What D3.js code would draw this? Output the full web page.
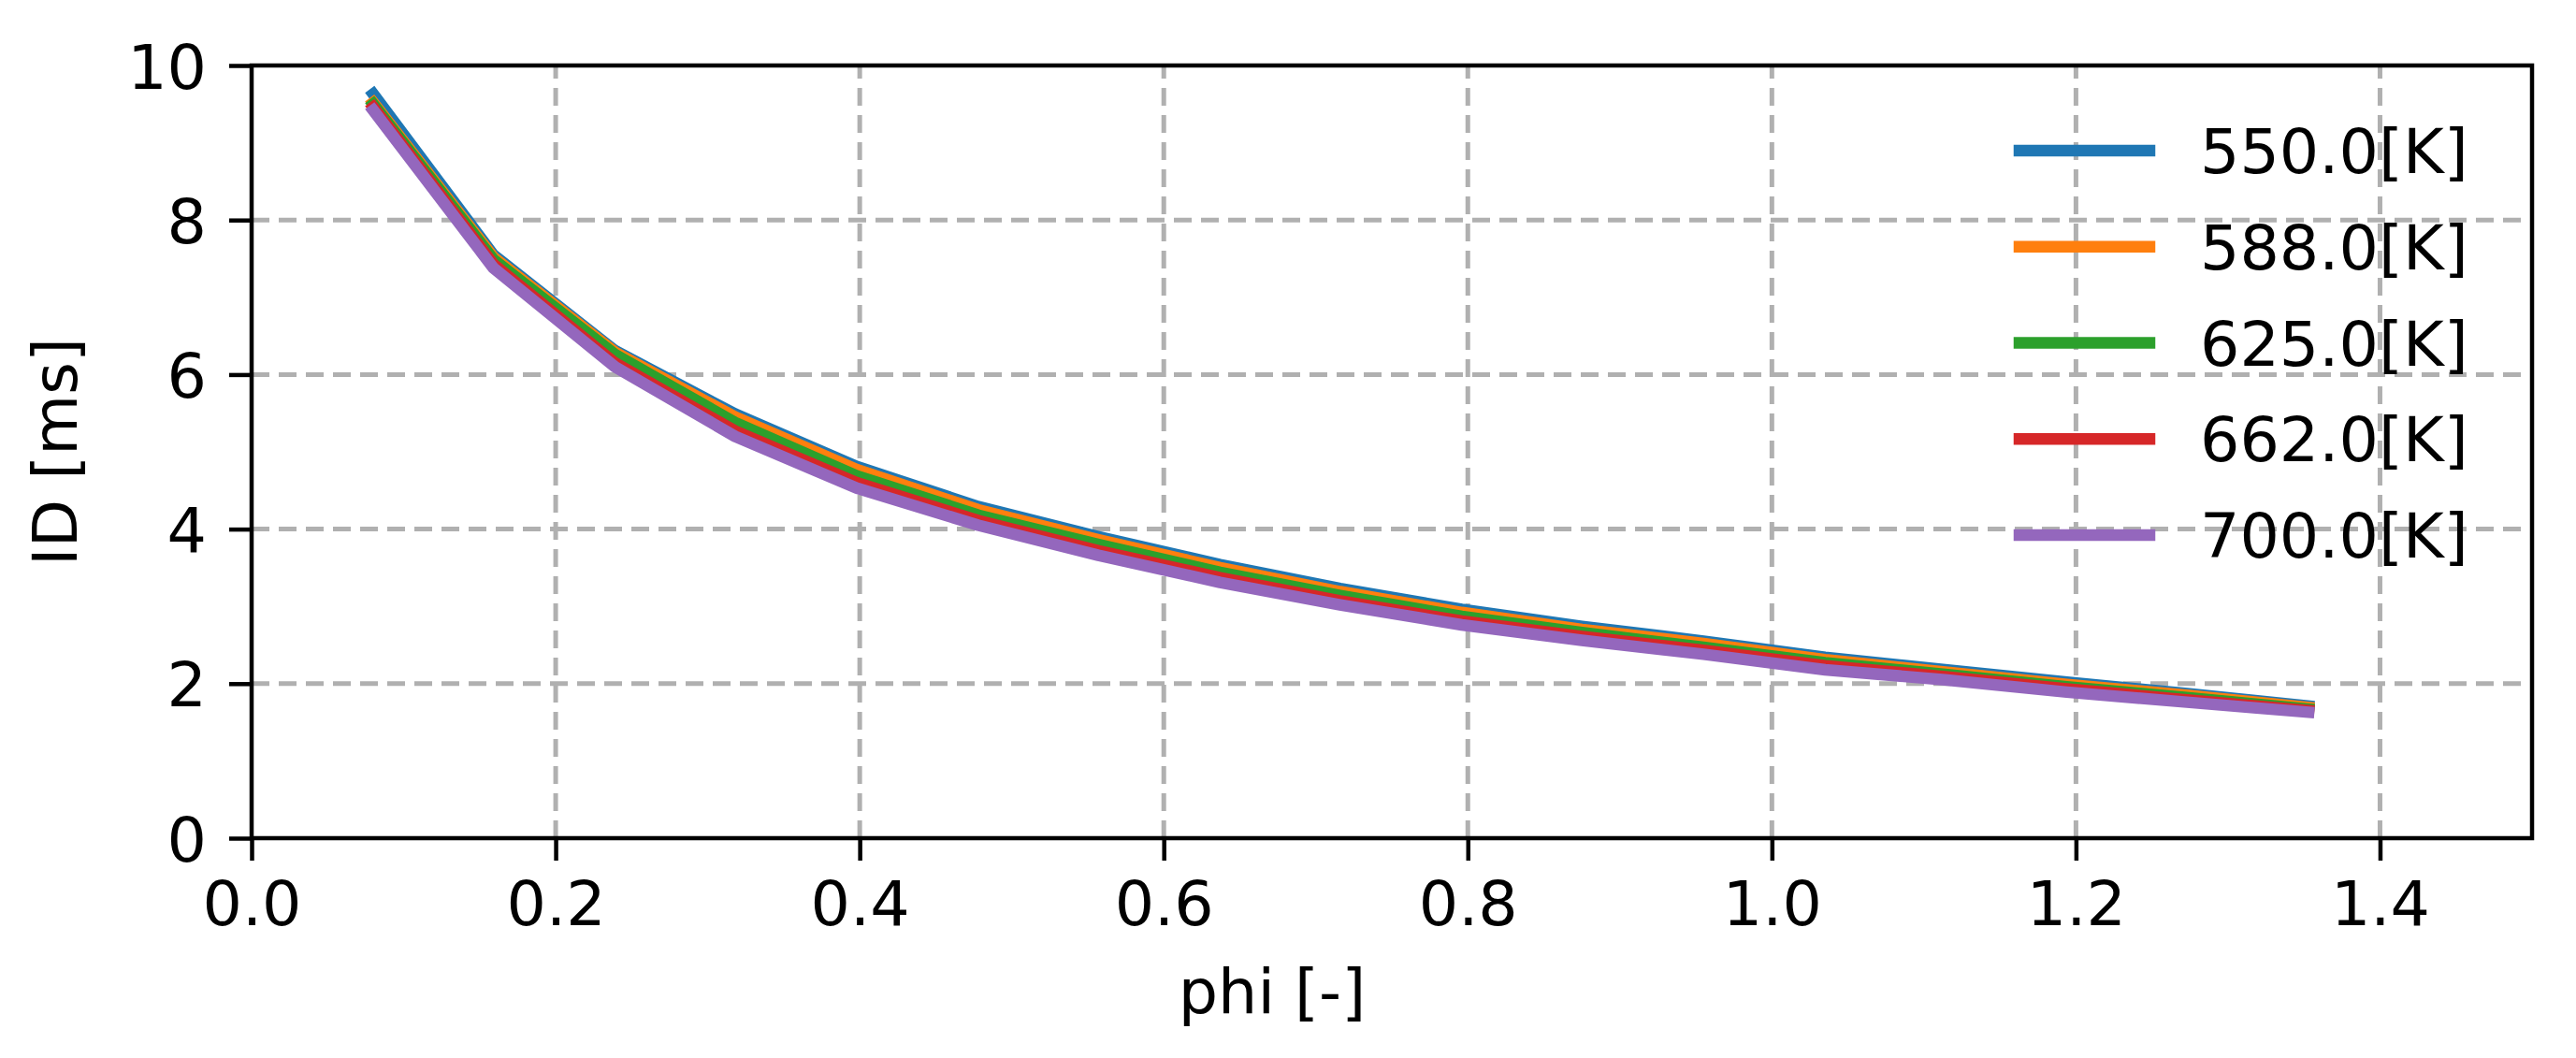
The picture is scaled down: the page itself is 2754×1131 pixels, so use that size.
<!DOCTYPE html>
<html>
<head>
<meta charset="utf-8">
<script src="https://cdn.jsdelivr.net/npm/d3@7"></script>
<style>
  body { margin: 0; background: #fff; }
  text { font-family: "DejaVu Sans", sans-serif; }
</style>
</head>
<body>
<svg width="2754" height="1131"></svg>
<script>
(function (d3) {
  'use strict';

  // data
  const phi = [0.080, 0.159, 0.239, 0.318, 0.398, 0.478, 0.557, 0.637, 0.716,
               0.796, 0.875, 0.955, 1.035, 1.114, 1.194, 1.273, 1.353];
  const temps = ['550.0[K]', '588.0[K]', '625.0[K]', '662.0[K]', '700.0[K]'];
  const id550 = [9.63, 7.55, 6.31, 5.49, 4.81, 4.29, 3.90, 3.54, 3.23, 2.96, 2.74, 2.55, 2.34, 2.18, 2.02, 1.87, 1.71];
  const id588 = [9.52, 7.52, 6.29, 5.45, 4.77, 4.25, 3.86, 3.50, 3.19, 2.92, 2.70, 2.52, 2.31, 2.15, 1.99, 1.85, 1.69];
  const id625 = [9.50, 7.49, 6.26, 5.38, 4.69, 4.18, 3.80, 3.44, 3.14, 2.87, 2.66, 2.47, 2.27, 2.12, 1.96, 1.82, 1.67];
  const id662 = [9.46, 7.43, 6.15, 5.27, 4.60, 4.11, 3.72, 3.37, 3.07, 2.81, 2.61, 2.43, 2.23, 2.09, 1.93, 1.79, 1.65];
  const id700 = [9.42, 7.38, 6.10, 5.20, 4.53, 4.05, 3.66, 3.31, 3.02, 2.76, 2.56, 2.38, 2.18, 2.05, 1.89, 1.76, 1.63];
  const xTicks = [0, 0.2, 0.4, 0.6, 0.8, 1.0, 1.2, 1.4];
  const yTicks = [0, 2, 4, 6, 8, 10];

  const series = [id550, id588, id625, id662, id700];
  const colors = ['#1f77b4', '#ff7f0e', '#2ca02c', '#d62728', '#9467bd'];

  const svg = d3.select('svg');
  const fontSize = 66.7;

  const left = 269, right = 2707, top = 70, bottom = 896;

  const x = d3.scaleLinear().domain([0, 1.5]).range([left, right]);
  const y = d3.scaleLinear().domain([0, 10]).range([bottom, top]);

  // grid
  const grid = svg.append('g')
    .attr('stroke', '#b0b0b0')
    .attr('stroke-width', 5)
    .attr('stroke-dasharray', '19,10');

  grid.selectAll('.gx').data(xTicks.filter(d => d > 0)).enter()
    .append('line')
      .attr('x1', d => x(d)).attr('x2', d => x(d))
      .attr('y1', bottom).attr('y2', top);

  grid.selectAll('.gy').data(yTicks.filter(d => d > 0 && d < 10)).enter()
    .append('line')
      .attr('y1', d => y(d)).attr('y2', d => y(d))
      .attr('x1', left).attr('x2', right);

  // lines
  const line = d3.line()
    .x((d, i) => x(phi[i]))
    .y(d => y(d));

  svg.append('g').selectAll('path').data(series).enter()
    .append('path')
      .attr('d', line)
      .attr('fill', 'none')
      .attr('stroke', (d, i) => colors[i])
      .attr('stroke-width', 12.5)
      .attr('stroke-linecap', 'square')
      .attr('stroke-linejoin', 'round');

  // axes
  const xAxis = d3.axisBottom(x)
    .tickValues(xTicks)
    .tickFormat(d3.format('.1f'))
    .tickSize(24)
    .tickPadding(22);

  const yAxis = d3.axisLeft(y)
    .tickValues(yTicks)
    .tickFormat(d3.format('d'))
    .tickSize(24)
    .tickPadding(24);

  const gx = svg.append('g')
    .attr('transform', `translate(0,${bottom})`)
    .call(xAxis);
  gx.select('.domain').remove();
  gx.selectAll('line').attr('stroke', '#000').attr('stroke-width', 4.5);
  gx.selectAll('text')
    .attr('font-size', fontSize)
    .attr('font-family', '"DejaVu Sans", sans-serif')
    .attr('fill', '#000');

  const gy = svg.append('g')
    .attr('transform', `translate(${left},0)`)
    .call(yAxis);
  gy.select('.domain').remove();
  gy.selectAll('line').attr('stroke', '#000').attr('stroke-width', 4.5);
  gy.selectAll('text')
    .attr('font-size', fontSize)
    .attr('font-family', '"DejaVu Sans", sans-serif')
    .attr('fill', '#000')
    .attr('dy', '0.36em');

  // frame
  svg.append('rect')
    .attr('x', left).attr('y', top)
    .attr('width', right - left).attr('height', bottom - top)
    .attr('fill', 'none')
    .attr('stroke', '#000')
    .attr('stroke-width', 4.5)
    .attr('stroke-linecap', 'square');

  // axis labels
  svg.append('text')
    .attr('x', 1360).attr('y', 1083)
    .attr('text-anchor', 'middle')
    .attr('font-size', fontSize)
    .text('phi [-]');

  svg.append('text')
    .attr('transform', 'translate(82,483) rotate(-90)')
    .attr('text-anchor', 'middle')
    .attr('font-size', fontSize)
    .text('ID [ms]');

  // legend, no frame
  const legend = svg.append('g');
  const rowY = d3.scalePoint().domain(temps).range([161, 572]);

  const item = legend.selectAll('g').data(temps).enter()
    .append('g')
      .attr('transform', d => `translate(0,${rowY(d)})`);

  item.append('line')
    .attr('x1', 2159).attr('x2', 2298)
    .attr('stroke', (d, i) => colors[i])
    .attr('stroke-width', 12.5)
    .attr('stroke-linecap', 'square');

  item.append('text')
    .attr('x', 2352).attr('y', 24)
    .attr('font-size', fontSize)
    .text(d => d);

}(d3));
</script>
</body>
</html>
